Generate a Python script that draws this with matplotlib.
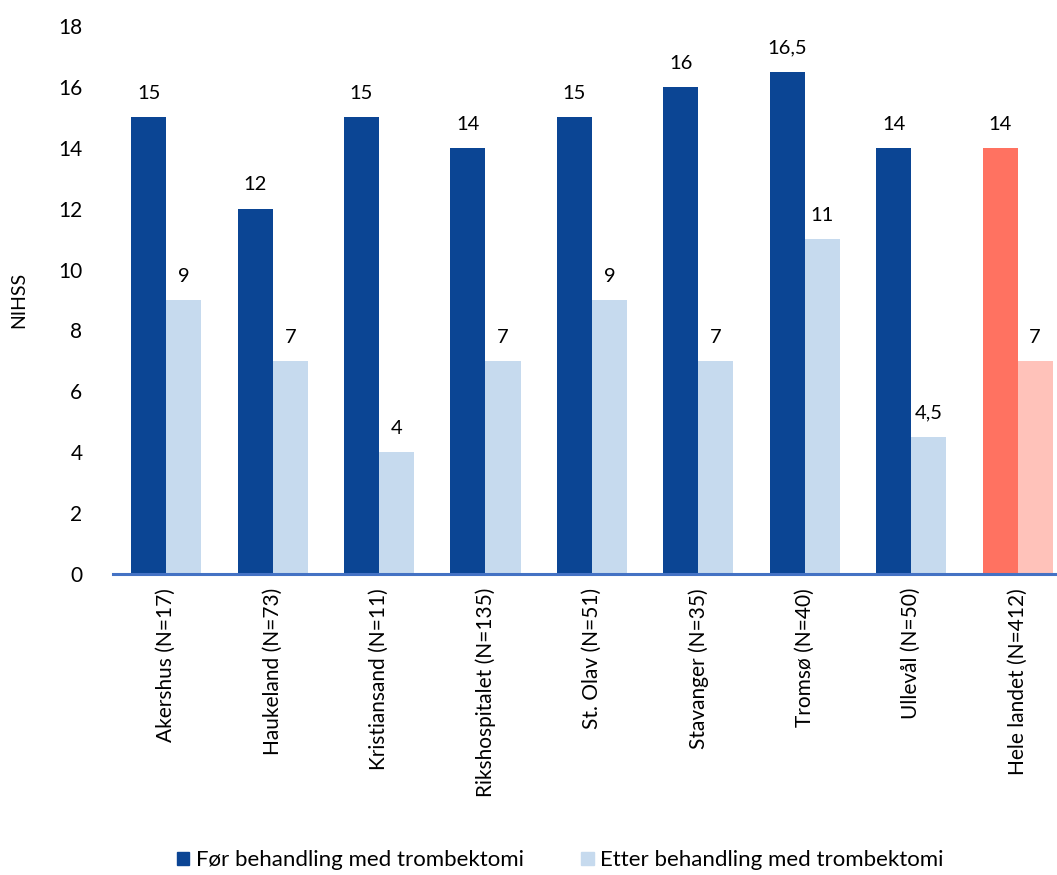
import matplotlib.pyplot as plt
import numpy as np
from matplotlib.patches import Patch

plt.rcParams["font.family"] = ["Lato", "DejaVu Sans"]

SYKEHUS = ["Akershus (N=17)", "Haukeland (N=73)", "Kristiansand (N=11)",
           "Rikshospitalet (N=135)", "St. Olav (N=51)", "Stavanger (N=35)",
           "Tromsø (N=40)", "Ullevål (N=50)", "Hele landet (N=412)"]
FOER  = [15, 12, 15, 14, 15, 16, 16.5, 14, 14]
ETTER = [9, 7, 4, 7, 9, 7, 11, 4.5, 7]

DARK, LIGHT = "#0B4594", "#C6DAEE"
DARK_TOT, LIGHT_TOT = "#FF7261", "#FFC2BA"

def fmt(v):
    return f"{v:g}".replace(".", ",")

fig = plt.figure(figsize=(10.57, 8.75), dpi=100, facecolor="white")
ax = fig.add_axes([113/1057, 301/875, 944/1057, 548/875])

x = np.arange(len(SYKEHUS))
w = 0.33
c1 = [DARK] * (len(x) - 1) + [DARK_TOT]
c2 = [LIGHT] * (len(x) - 1) + [LIGHT_TOT]
b1 = ax.bar(x - w/2, FOER, w, color=c1)
b2 = ax.bar(x + w/2, ETTER, w, color=c2)

for bars, vals in ((b1, FOER), (b2, ETTER)):
    for b, v in zip(bars, vals):
        ax.annotate(fmt(v), (b.get_x() + b.get_width()/2, v),
                    xytext=(0, 11), textcoords="offset points",
                    ha="center", va="bottom", fontsize=14.5)

ax.set_ylim(0, 18)
ax.set_yticks(range(0, 19, 2))
ax.set_xlim(-0.5, 8.37)
ax.set_xticks(x)
ax.set_xticklabels(SYKEHUS, rotation=90, fontsize=15)
ax.set_ylabel("NIHSS", fontsize=14, labelpad=22)
ax.tick_params(axis="y", length=0, labelsize=15, pad=22)
ax.tick_params(axis="x", length=0, pad=10)

for s in ["top", "right", "left"]:
    ax.spines[s].set_visible(False)
ax.spines["bottom"].set_color("#4472C4")
ax.spines["bottom"].set_linewidth(2.2)

handles = [Patch(color=DARK, label="Før behandling med trombektomi"),
           Patch(color=LIGHT, label="Etter behandling med trombektomi")]
fig.legend(handles=handles, loc="center", bbox_to_anchor=(0.53, 0.017),
           ncol=2, frameon=False, fontsize=16, handlelength=0.55,
           handleheight=0.55, handletextpad=0.3, columnspacing=2.6)

fig.savefig("out.png", dpi=100, facecolor="white")
